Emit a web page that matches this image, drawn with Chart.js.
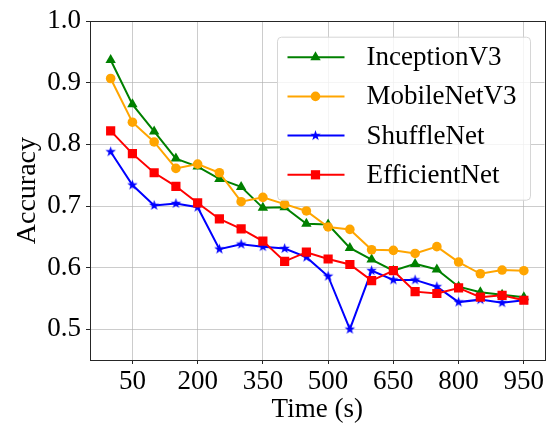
<!DOCTYPE html>
<html>
<head>
<meta charset="utf-8">
<script src="https://cdn.jsdelivr.net/npm/chart.js@4.4.1/dist/chart.umd.min.js"></script>
<style>
  body { margin: 0; background: #fff; }
  #wrap { width: 551px; height: 429px; }
</style>
</head>
<body>
<div id="wrap"><canvas id="mycanvas" width="551" height="429"></canvas></div>
<script>
// time steps (s)
var times = [0, 50, 100, 150, 200, 250, 300, 350, 400, 450, 500, 550, 600, 650, 700, 750, 800, 850, 900, 950];
var xTicks = [50, 200, 350, 500, 650, 800, 950];
var yTicks = [0.5, 0.6, 0.7, 0.8, 0.9, 1.0];

var inceptionV3 = [0.937, 0.865, 0.821, 0.777, 0.764, 0.744, 0.731, 0.697, 0.698, 0.671, 0.670, 0.632, 0.613, 0.595, 0.606, 0.597, 0.569, 0.560, 0.556, 0.552];
var mobileNetV3 = [0.907, 0.836, 0.804, 0.761, 0.768, 0.754, 0.707, 0.714, 0.703, 0.692, 0.666, 0.662, 0.629, 0.628, 0.623, 0.634, 0.609, 0.590, 0.596, 0.595];
var shuffleNet  = [0.788, 0.734, 0.701, 0.704, 0.698, 0.630, 0.638, 0.634, 0.631, 0.617, 0.586, 0.500, 0.595, 0.580, 0.580, 0.569, 0.544, 0.548, 0.543, 0.547];
var efficientNet = [0.822, 0.785, 0.754, 0.732, 0.705, 0.679, 0.663, 0.643, 0.610, 0.625, 0.614, 0.605, 0.579, 0.595, 0.561, 0.558, 0.567, 0.552, 0.555, 0.547];

var serif = "'Liberation Serif', 'Times New Roman', serif";

// filled star marker, like matplotlib '*'
function makeStar(color, r) {
	var c = document.createElement('canvas');
	var s = Math.ceil(r * 2) + 2;
	c.width = s; c.height = s;
	var g = c.getContext('2d');
	g.fillStyle = color;
	g.beginPath();
	for (var k = 0; k < 10; k++) {
		var rad = (k % 2 === 0) ? r : r * 0.4;
		var a = -Math.PI / 2 + k * Math.PI / 5;
		var px = s / 2 + rad * Math.cos(a), py = s / 2 + rad * Math.sin(a);
		if (k === 0) g.moveTo(px, py); else g.lineTo(px, py);
	}
	g.closePath();
	g.fill();
	return c;
}
var star = makeStar('#0000ff', 5.5);

function pts(arr) {
	var out = [];
	for (var i in arr) out.push({x: times[i], y: arr[i]});
	return out;
}

var chartdata = {
	datasets: [
		{ label: 'InceptionV3', data: pts(inceptionV3), borderColor: '#008000', backgroundColor: '#008000',
		  pointStyle: 'triangle', pointRadius: 6, order: 3 },
		{ label: 'MobileNetV3', data: pts(mobileNetV3), borderColor: '#ffa500', backgroundColor: '#ffa500',
		  pointStyle: 'circle', pointRadius: 4.8, order: 2 },
		{ label: 'ShuffleNet', data: pts(shuffleNet), borderColor: '#0000ff', backgroundColor: '#0000ff',
		  pointStyle: star, pointRadius: 5, order: 1 },
		{ label: 'EfficientNet', data: pts(efficientNet), borderColor: '#ff0000', backgroundColor: '#ff0000',
		  pointStyle: 'rect', pointRadius: 6.5, order: 0 }
	]
};
chartdata.datasets.forEach(function(d) {
	d.borderWidth = 2;
	d.pointBorderWidth = 0;
	d.pointHoverRadius = d.pointRadius;
	d.tension = 0;
});

// spines + legend box inside the plot
var frameAndLegend = {
	id: 'frameAndLegend',
	afterDraw: function(chart) {
		var ctx = chart.ctx, ca = chart.chartArea;
		ctx.save();
		ctx.strokeStyle = '#262626';
		ctx.lineWidth = 1;
		ctx.strokeRect(Math.round(ca.left) + 0.5, Math.round(ca.top) + 0.5,
			Math.round(ca.right - ca.left), Math.round(ca.bottom - ca.top));

		var lw = 253, lh = 163;
		var lx = ca.right - 14 - lw, ly = ca.top + 16;
		var r = 4;
		ctx.beginPath();
		ctx.moveTo(lx + r, ly);
		ctx.arcTo(lx + lw, ly, lx + lw, ly + lh, r);
		ctx.arcTo(lx + lw, ly + lh, lx, ly + lh, r);
		ctx.arcTo(lx, ly + lh, lx, ly, r);
		ctx.arcTo(lx, ly, lx + lw, ly, r);
		ctx.closePath();
		ctx.fillStyle = 'rgba(255,255,255,0.8)';
		ctx.fill();
		ctx.strokeStyle = '#d6d6d6';
		ctx.stroke();

		ctx.font = '27px ' + serif;
		ctx.textBaseline = 'middle';
		ctx.textAlign = 'left';
		chart.data.datasets.forEach(function(ds, i) {
			var cy = ly + 20 + i * 39.2;
			ctx.strokeStyle = ds.borderColor;
			ctx.lineWidth = 2;
			ctx.beginPath();
			ctx.moveTo(lx + 10, cy);
			ctx.lineTo(lx + 67, cy);
			ctx.stroke();
			var mx = lx + 38;
			ctx.fillStyle = ds.backgroundColor;
			if (ds.pointStyle === 'triangle') {
				ctx.beginPath();
				ctx.moveTo(mx, cy - 6);
				ctx.lineTo(mx + 5.2, cy + 3);
				ctx.lineTo(mx - 5.2, cy + 3);
				ctx.closePath();
				ctx.fill();
			} else if (ds.pointStyle === 'circle') {
				ctx.beginPath();
				ctx.arc(mx, cy, 4.8, 0, Math.PI * 2);
				ctx.fill();
			} else if (ds.pointStyle === 'rect') {
				ctx.fillRect(mx - 4.6, cy - 4.6, 9.2, 9.2);
			} else {
				ctx.drawImage(ds.pointStyle, mx - ds.pointStyle.width / 2, cy - ds.pointStyle.height / 2);
			}
			ctx.fillStyle = '#000';
			ctx.fillText(ds.label, lx + 89, cy + 1);
		});
		ctx.restore();
	}
};

var ctx = document.getElementById('mycanvas');
var lineChart = new Chart(ctx, {
	type: 'line',
	data: chartdata,
	options: {
		responsive: false,
		devicePixelRatio: 1,
		animation: false,
		layout: { padding: { top: 16, right: 4, left: 0, bottom: 0 } },
		plugins: { legend: { display: false }, tooltip: { enabled: false } },
		scales: {
			x: {
				type: 'linear',
				min: -47.5,
				max: 997.5,
				afterBuildTicks: function(scale) {
					scale.ticks = xTicks.map(function(v) { return {value: v}; });
				},
				afterFit: function(scale) { scale.height = 69; },
				ticks: { color: '#000', font: { family: serif, size: 27 }, padding: 2, maxRotation: 0 },
				grid: { color: 'rgba(176,176,176,0.65)', lineWidth: 1, tickLength: 4, tickColor: '#262626' },
				border: { display: true, color: '#262626', width: 1 },
				title: { display: true, text: 'Time (s)', color: '#000', font: { family: serif, size: 27 }, padding: { top: 0, bottom: 3 } }
			},
			y: {
				min: 0.45,
				max: 1.0,
				afterBuildTicks: function(scale) {
					scale.ticks = yTicks.map(function(v) { return {value: v}; });
				},
				afterFit: function(scale) { scale.width = 90; },
				ticks: {
					color: '#000', font: { family: serif, size: 27 }, padding: 5,
					callback: function(v) { return v.toFixed(1); }
				},
				grid: { color: 'rgba(176,176,176,0.65)', lineWidth: 1, tickLength: 4, tickColor: '#262626' },
				border: { display: true, color: '#262626', width: 1 },
				title: { display: true, text: 'Accuracy', color: '#000', font: { family: serif, size: 28 }, padding: { top: 11, bottom: 0 } }
			}
		}
	},
	plugins: [frameAndLegend]
});
</script>
</body>
</html>
